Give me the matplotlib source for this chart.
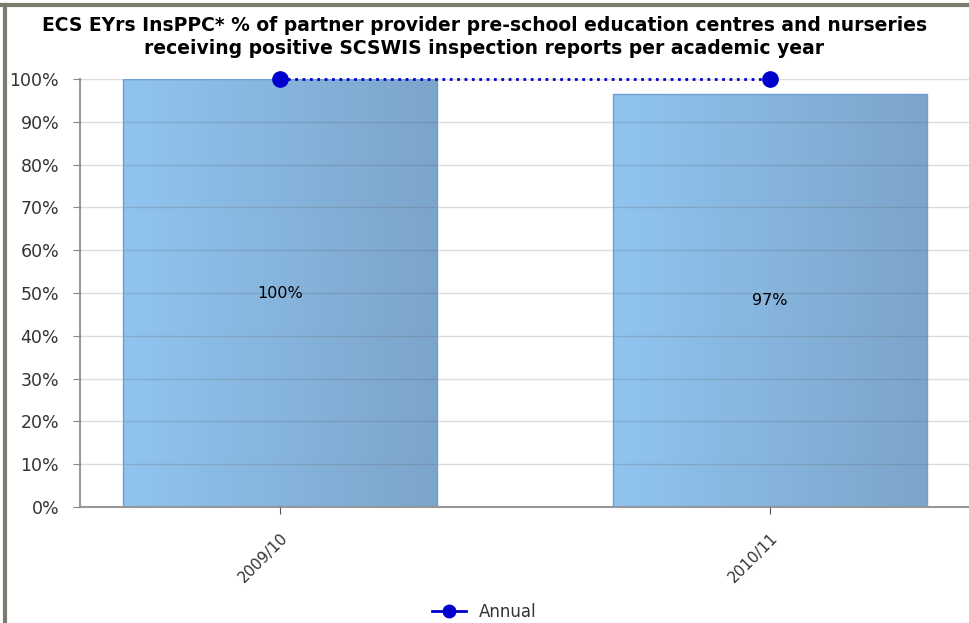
# plot.py
# Bar chart of partner provider inspection results, with the annual line on top

import numpy as np
import matplotlib.pyplot as plt
from matplotlib.colors import LinearSegmentedColormap
from matplotlib.lines import Line2D

# data
years = ['2009/10', '2010/11']
bar_values = [100, 96.5]
bar_labels = ['100%', '97%']
annual_values = [100, 100]
y_ticks = [0, 10, 20, 30, 40, 50, 60, 70, 80, 90, 100]

title = ('ECS EYrs InsPPC* % of partner provider pre-school education centres and nurseries\n'
         'receiving positive SCSWIS inspection reports per academic year')

fig = plt.figure(figsize=(9.69, 6.23), dpi=100)
ax = fig.add_axes([80 / 969, 1 - 507 / 623, 1 - 80 / 969, (507 - 79) / 623])

x = np.arange(len(years))
width = 0.64

# gradient fill for the bars, light on the left, darker on the right
cmap = LinearSegmentedColormap.from_list('bargrad', ['#90c4ef', '#7ca5ca'])
grad = np.linspace(0, 1, 256).reshape(1, -1)
bars = ax.bar(x, bar_values, width=width, facecolor='none', edgecolor='#6e9fd0',
              linewidth=1, zorder=3)
for b in bars:
    im = ax.imshow(grad, cmap=cmap, aspect='auto', zorder=2,
                   extent=[b.get_x(), b.get_x() + b.get_width(), 0, b.get_height()])
    im.set_clip_path(b)

for xi, v, lab in zip(x, bar_values, bar_labels):
    ax.text(xi, v / 2, lab, ha='center', va='center', fontsize=11.5, color='black', zorder=5)

# annual series
ax.plot(x, annual_values, color='#0000cc', linestyle=':', linewidth=2,
        marker='o', markersize=11, label='Annual', zorder=6, clip_on=False)

ax.set_xlim(-0.408, 1.406)
ax.set_ylim(0, 100)
ax.set_yticks(y_ticks)
ax.set_yticklabels([f'{t}%' for t in y_ticks], fontsize=12.5, color='#333333')
ax.set_xticks(x)
ax.set_xticklabels(years, rotation=45, ha='right', rotation_mode='anchor',
                   fontsize=11, color='#333333')
ax.tick_params(axis='y', length=5, color='#888888', pad=10)
ax.tick_params(axis='x', length=5, color='#555555', pad=12)

ax.grid(axis='y', color='#606060', alpha=0.22, linewidth=1, zorder=4)
ax.set_axisbelow(False)
for side in ['top', 'right']:
    ax.spines[side].set_visible(False)
for side in ['left', 'bottom']:
    ax.spines[side].set_color('#999999')
    ax.spines[side].set_linewidth(1.5)

fig.text(0.5, 1 - 37 / 623, title, ha='center', va='center', fontsize=13.5,
         fontweight='bold', linespacing=1.25)

fig.legend(handles=[Line2D([], [], color='#0000cc', marker='o', markersize=9, linewidth=2)],
           labels=['Annual'], loc='center', bbox_to_anchor=(0.5, 1 - 612 / 623),
           frameon=False, fontsize=12, handlelength=2, labelcolor='#333333')

# outer frame lines of the dashboard panel
fig.add_artist(Line2D([0, 1], [1 - 5 / 623, 1 - 5 / 623], color='#7a7a6e', linewidth=3))
fig.add_artist(Line2D([5 / 969, 5 / 969], [0, 1 - 5 / 623], color='#7a7a6e', linewidth=3))

fig.savefig('out.png', dpi=100)
